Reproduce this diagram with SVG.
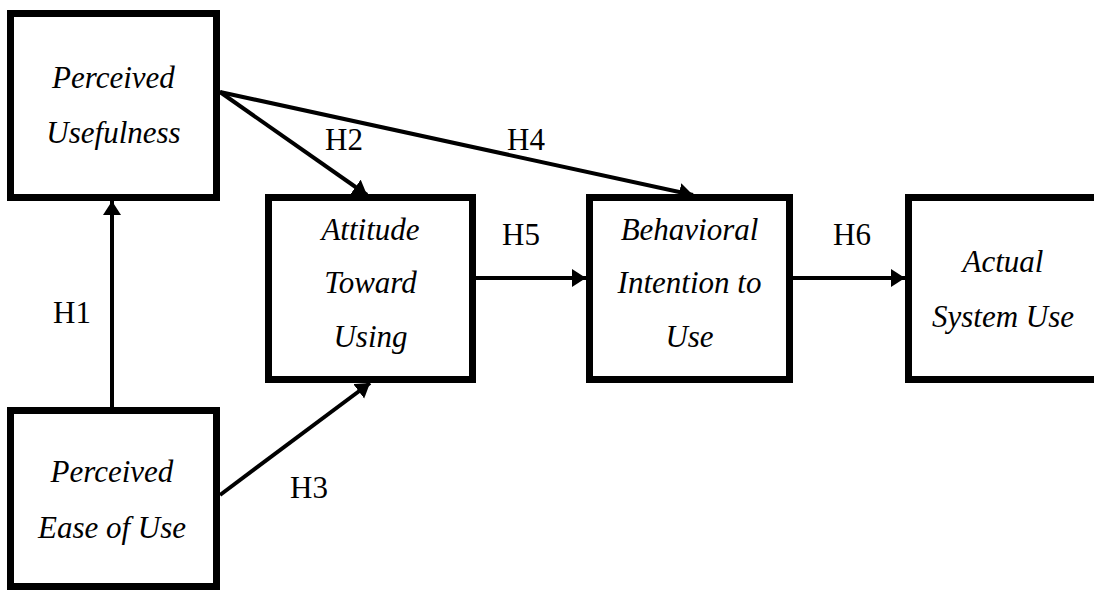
<svg xmlns="http://www.w3.org/2000/svg" width="1094" height="590" viewBox="0 0 1094 590" font-family="Liberation Serif" font-size="31">
  <style>
    .box { fill: #ffffff; stroke: #000000; stroke-width: 7; }
    .conn { stroke: #000; stroke-width: 4; fill: none; marker-end: url(#arrow); }
  </style>
  <defs>
    <marker id="arrow" markerUnits="userSpaceOnUse" markerWidth="16" markerHeight="20" refX="14" refY="9" orient="auto">
      <path d="M0,0 L14,9 L0,18 z" fill="#000"/>
    </marker>
  </defs>
  <rect x="0" y="0" width="1094" height="590" fill="#ffffff"/>

  <g id="connectors">
    <line class="conn" x1="112" y1="407" x2="112" y2="201"/>
    <line class="conn" x1="220" y1="92" x2="367" y2="195"/>
    <line class="conn" x1="220" y1="92" x2="693" y2="195"/>
    <line class="conn" x1="220" y1="495" x2="370" y2="383"/>
    <line class="conn" x1="476" y1="278" x2="586" y2="278"/>
    <line class="conn" x1="793" y1="278" x2="905" y2="278"/>
  </g>

  <g id="node-pu" font-style="italic" text-anchor="middle">
    <rect class="box" x="10.5" y="13.5" width="206" height="184"/>
    <text x="113.5" y="88" font-family="Liberation Serif">Perceived</text>
    <text x="113.5" y="143" font-family="Liberation Serif">Usefulness</text>
  </g>
  <g id="node-peou" font-style="italic" text-anchor="middle">
    <rect class="box" x="10.5" y="410.5" width="206" height="176"/>
    <text x="112" y="482" font-family="Liberation Serif">Perceived</text>
    <text x="112" y="538" font-family="Liberation Serif">Ease of Use</text>
  </g>
  <g id="node-atu" font-style="italic" text-anchor="middle">
    <rect class="box" x="268.5" y="197.5" width="204" height="182"/>
    <text x="370.5" y="240" font-family="Liberation Serif">Attitude</text>
    <text x="370.5" y="293" font-family="Liberation Serif">Toward</text>
    <text x="370.5" y="347" font-family="Liberation Serif">Using</text>
  </g>
  <g id="node-bi" font-style="italic" text-anchor="middle">
    <rect class="box" x="589.5" y="197.5" width="200" height="182"/>
    <text x="689.5" y="240" font-family="Liberation Serif">Behavioral</text>
    <text x="689.5" y="293" font-family="Liberation Serif">Intention to</text>
    <text x="689.5" y="347" font-family="Liberation Serif">Use</text>
  </g>
  <g id="node-asu" font-style="italic" text-anchor="middle">
    <rect class="box" x="908.5" y="197.5" width="250" height="182"/>
    <text x="1003" y="272" font-family="Liberation Serif">Actual</text>
    <text x="1003" y="327" font-family="Liberation Serif">System Use</text>
  </g>

  <g id="labels" font-family="Liberation Serif">
    <text x="53" y="323">H1</text>
    <text x="325" y="150">H2</text>
    <text x="290" y="498">H3</text>
    <text x="507" y="150">H4</text>
    <text x="502" y="245">H5</text>
    <text x="833" y="245">H6</text>
  </g>
</svg>
